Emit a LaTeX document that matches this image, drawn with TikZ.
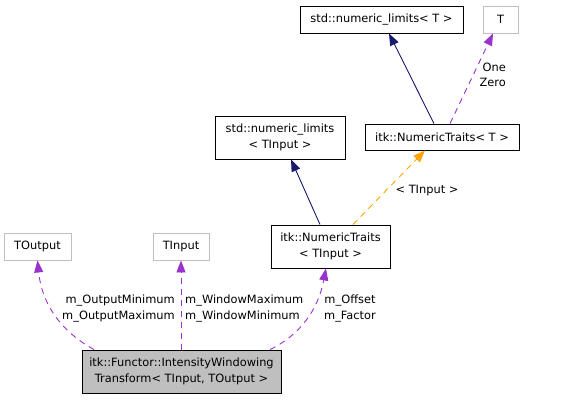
\documentclass[tikz,border=0pt]{standalone}
\usepackage{fontspec}
\setmainfont{DejaVu Sans}
\usetikzlibrary{arrows.meta}
\definecolor{navyc}{HTML}{191970}
\definecolor{purp}{HTML}{9A32CD}
\definecolor{orng}{HTML}{FFA500}
\definecolor{grayb}{HTML}{BFBFBF}
\begin{document}
\begin{tikzpicture}[x=1pt,y=-1pt,
  font=\fontsize{11.4}{15.5}\selectfont,
  cls/.style={draw=black,line width=0.9pt,inner sep=0pt,align=center,fill=white},
  ext/.style={draw=grayb,line width=0.9pt,inner sep=0pt,align=center,fill=white},
  main/.style={draw=black,line width=0.9pt,inner sep=0pt,align=center,fill=grayb},
  tip/.style={-{Triangle[length=12pt,width=9pt,fill=#1]}},
  inh/.style={tip=navyc,draw=navyc,line width=0.9pt},
  use/.style={tip=purp,draw=purp,dash pattern=on 6pt off 5pt,line width=0.9pt},
  tmpl/.style={tip=orng,draw=orng,dash pattern=on 6pt off 5pt,line width=0.9pt},
  lbl/.style={inner sep=0pt,align=center}]
\useasboundingbox (0,0) rectangle (577,400);
\node[cls,minimum width=163pt,minimum height=27pt] (nlT) at (381.5,19.5) {std::numeric\_limits< T >};
\node[ext,minimum width=35pt,minimum height=27pt] (T) at (500.5,19.5) {T};
\node[cls,minimum width=130pt,minimum height=43pt] (nlI) at (280,137.5) {std::numeric\_limits\\< TInput >};
\node[cls,minimum width=154pt,minimum height=26pt] (ntT) at (442,137) {itk::NumericTraits< T >};
\node[ext,minimum width=67pt,minimum height=27pt] (TOut) at (37.5,246.5) {TOutput};
\node[ext,minimum width=56pt,minimum height=27pt] (TIn) at (181,246.5) {TInput};
\node[cls,minimum width=119pt,minimum height=43pt] (ntI) at (330.5,246.5) {itk::NumericTraits\\< TInput >};
\node[main,minimum width=199pt,minimum height=43pt] (m) at (181.5,371.5) {itk::Functor::IntensityWindowing\\Transform< TInput, TOutput >};
% connector end points on the node borders
\coordinate (ntTa) at ([xshift=-8pt]ntT.north);
\coordinate (ntTb) at ([xshift=8pt]ntT.north);
\coordinate (ntIa) at ([xshift=-10.5pt]ntI.north);
\coordinate (ntIb) at ([xshift=22.5pt]ntI.north);
\coordinate (ma) at ([xshift=-87.5pt]m.north);
\coordinate (mb) at ([xshift=-0.5pt]m.north);
\coordinate (mc) at ([xshift=88.5pt]m.north);
\coordinate (nlTs) at ([xshift=7.5pt]nlT.south);
\coordinate (Ts) at ([xshift=-7.5pt]T.south);
\coordinate (nlIs) at ([xshift=11pt]nlI.south);
\coordinate (ntTs) at ([xshift=-17pt]ntT.south);
\coordinate (TOuts) at (TOut.south);
\coordinate (TIns) at (TIn.south);
\coordinate (ntIs) at ([xshift=-4.5pt]ntI.south);
\draw[inh] (ntTa) -- (nlTs);
\draw[use] (ntTb) -- (Ts);
\draw[inh] (ntIa) -- (nlIs);
\draw[tmpl] (ntIb) -- (ntTs);
\draw[use] (ma) .. controls (62,332) and (42,305) .. (TOuts);
\draw[use] (mb) -- (TIns);
\draw[use] (mc) .. controls (300,335) and (318,310) .. (ntIs);
% labels
\node[lbl,align=right,anchor=east] (l1) at (175,308.5) {m\_OutputMinimum\\m\_OutputMaximum};
\node[lbl,align=left,anchor=west] (l2) at (185,308.5) {m\_WindowMaximum\\m\_WindowMinimum};
\node[lbl] (l3) at (350,308.5) {m\_Offset\\m\_Factor};
\node[lbl,align=right,anchor=east] (l4) at (506,75) {One\\Zero};
\node[lbl] (l5) at (427,191) {< TInput >};
\end{tikzpicture}
\end{document}
